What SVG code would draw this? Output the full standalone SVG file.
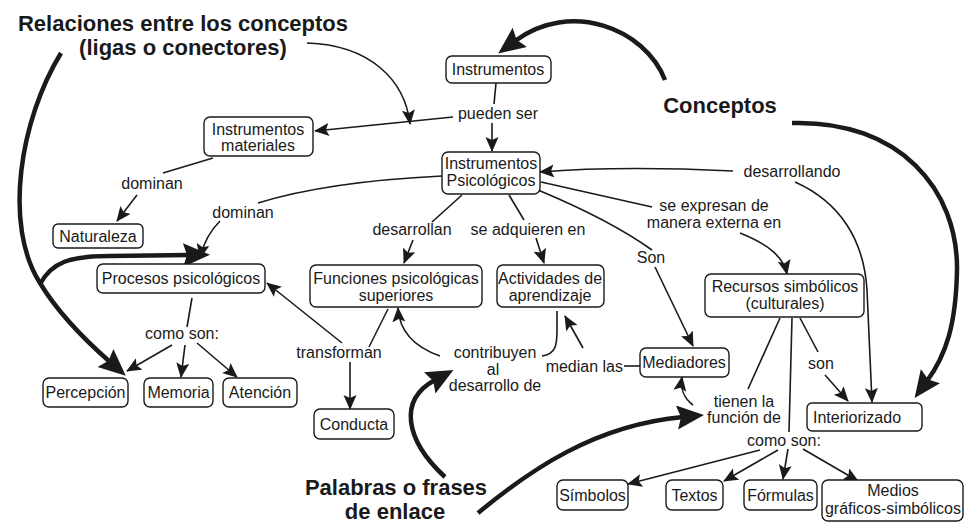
<svg xmlns="http://www.w3.org/2000/svg" width="966" height="523" viewBox="0 0 966 523">
<style>
.box{fill:#fff;stroke:#1a1a1a;stroke-width:1.4}
.t{font-family:"Liberation Sans",Arial,sans-serif;font-size:16px;fill:#1a1a1a;text-anchor:middle}
.h{font-family:"Liberation Sans",Arial,sans-serif;font-size:22px;font-weight:bold;fill:#1a1a1a;text-anchor:middle}
.ln{fill:none;stroke:#1a1a1a;stroke-width:1.6}
.ar{marker-end:url(#a)}
.th{fill:none;stroke:#1a1a1a;stroke-width:4.5;marker-end:url(#A)}
</style>
<defs>
<marker id="a" markerUnits="userSpaceOnUse" markerWidth="16" markerHeight="14" refX="14" refY="6.5" orient="auto">
<path d="M0,0 L15,6.5 L0,13 L3,6.5 z" fill="#1a1a1a"/>
</marker>
<marker id="A" markerUnits="userSpaceOnUse" markerWidth="28" markerHeight="25" refX="6" refY="12" orient="auto">
<path d="M0,0 L27,12 L0,24 L4,12 z" fill="#1a1a1a"/>
</marker>
</defs>
<rect width="966" height="523" fill="#fff"/>

<g id="connectors">
<path class="ln" d="M496,83 L494,104"/>
<path class="ln ar" d="M492,123 L492,151"/>
<path class="ln ar" d="M453,117 L315,131"/>
<path class="ln ar" d="M307,43 C370,45 405,80 410,124"/>
<path class="ln" d="M213,158 L163,173"/>
<path class="ln ar" d="M137,195 L117,221"/>
<path class="ln" d="M442,176 C360,180 300,190 258,203"/>
<path class="ln ar" d="M220,221 Q205,236 200,258"/>
<path class="ln" d="M462,195 L432,222"/>
<path class="ln ar" d="M413,240 L404,263"/>
<path class="ln" d="M509,195 L524,220"/>
<path class="ln ar" d="M536,238 L544,263"/>
<path class="ln" d="M538,190 Q610,220 652,250"/>
<path class="ln ar" d="M655,267 L693,346"/>
<path class="ln" d="M541,182 L652,207"/>
<path class="ln ar" d="M740,233 C765,243 783,255 787,274"/>
<path class="ln ar" d="M733,171 C650,167 590,168 540,172"/>
<path class="ln ar" d="M795,182 C840,202 864,240 867,290 L872,402"/>
<path class="ln" d="M388,309 L369,347"/>
<path class="ln ar" d="M342,343 L267,283"/>
<path class="ln ar" d="M350,362 L350,409"/>
<path class="ln ar" d="M440,356 Q400,342 398,308"/>
<path class="ln" d="M542,356 C556,354 557,345 557,330 L557,311"/>
<path class="ln ar" d="M583,348 L565,316"/>
<path class="ln" d="M624,366 L640,366"/>
<path class="ln ar" d="M693,405 C684,398 680,390 682,377"/>
<path class="ln" d="M780,318 L748,389"/>
<path class="ln" d="M792,318 L789,432"/>
<path class="ln" d="M800,318 L818,352"/>
<path class="ln ar" d="M825,375 L848,401"/>
<path class="ln ar" d="M760,450 L628,484"/>
<path class="ln ar" d="M778,450 L724,481"/>
<path class="ln ar" d="M788,449 L783,479"/>
<path class="ln ar" d="M803,449 L858,481"/>
<path class="ln" d="M192,298 L187,327"/>
<path class="ln ar" d="M172,345 L127,371"/>
<path class="ln ar" d="M185,345 L181,377"/>
<path class="ln ar" d="M197,343 L237,377"/>
<path class="th" d="M665,80 C645,28 570,0 515,41"/>
<path class="th" d="M792,123 C900,120 958,190 957,270 C956,325 946,355 927,381"/>
<path class="th" d="M61,53 C20,120 3,225 40,283 C58,313 85,340 110,362"/>
<path class="th" d="M40,284 C52,262 70,256 110,256 L189,255"/>
<path class="th" d="M445,477 C405,440 398,400 435,380"/>
<path class="th" d="M478,513 C530,470 595,425 683,417"/>
</g>

<g id="labels">
<text class="h" x="183" y="31">Relaciones entre los conceptos</text>
<text class="h" x="183" y="55">(ligas o conectores)</text>
<text class="h" x="720" y="113">Conceptos</text>
<text class="h" x="396" y="495">Palabras o frases</text>
<text class="h" x="395" y="519">de enlace</text>
<text class="t" x="498" y="119">pueden ser</text>
<text class="t" x="152" y="189">dominan</text>
<text class="t" x="243" y="218">dominan</text>
<text class="t" x="792" y="177">desarrollando</text>
<text class="t" x="714" y="211">se expresan de</text>
<text class="t" x="714" y="228">manera externa en</text>
<text class="t" x="412" y="235">desarrollan</text>
<text class="t" x="528" y="235">se adquieren en</text>
<text class="t" x="651" y="263">Son</text>
<text class="t" x="182" y="339">como son:</text>
<text class="t" x="339" y="358">transforman</text>
<text class="t" x="495" y="358">contribuyen</text>
<text class="t" x="493" y="375">al</text>
<text class="t" x="495" y="391">desarrollo de</text>
<text class="t" x="623" y="372" style="text-anchor:end">median las</text>
<text class="t" x="821" y="369">son</text>
<text class="t" x="744" y="407">tienen la</text>
<text class="t" x="744" y="423">función de</text>
<text class="t" x="784" y="446">como son:</text>
</g>

<g id="n-instrumentos"><rect class="box" x="446" y="56" width="105" height="27" rx="6"/><text class="t" x="498" y="75">Instrumentos</text></g>
<g id="n-materiales"><rect class="box" x="204" y="117" width="109" height="39" rx="6"/><text class="t" x="258" y="135">Instrumentos</text><text class="t" x="258" y="151">materiales</text></g>
<g id="n-psicologicos"><rect class="box" x="442" y="152" width="98" height="42" rx="6"/><text class="t" x="491" y="169">Instrumentos</text><text class="t" x="491" y="186">Psicológicos</text></g>
<g id="n-naturaleza"><rect class="box" x="53" y="224" width="90" height="24" rx="5"/><text class="t" x="98" y="242">Naturaleza</text></g>
<g id="n-procesos"><rect class="box" x="97" y="264" width="168" height="29" rx="6"/><text class="t" x="181" y="284">Procesos psicológicos</text></g>
<g id="n-funciones"><rect class="box" x="310" y="265" width="172" height="42" rx="6"/><text class="t" x="396" y="284">Funciones psicológicas</text><text class="t" x="396" y="301">superiores</text></g>
<g id="n-actividades"><rect class="box" x="497" y="265" width="107" height="42" rx="6"/><text class="t" x="550" y="284">Actividades de</text><text class="t" x="550" y="301">aprendizaje</text></g>
<g id="n-recursos"><rect class="box" x="705" y="274" width="159" height="43" rx="6"/><text class="t" x="785" y="292">Recursos simbólicos</text><text class="t" x="785" y="309">(culturales)</text></g>
<g id="n-mediadores"><rect class="box" x="640" y="348" width="89" height="29" rx="6"/><text class="t" x="684" y="368">Mediadores</text></g>
<g id="n-interiorizado"><rect class="box" x="807" y="403" width="115" height="28" rx="5"/><text class="t" x="813" y="423" style="text-anchor:start">Interiorizado</text></g>
<g id="n-percepcion"><rect class="box" x="43" y="378" width="85" height="29" rx="6"/><text class="t" x="85.5" y="398">Percepción</text></g>
<g id="n-memoria"><rect class="box" x="144" y="378" width="69" height="29" rx="6"/><text class="t" x="178.5" y="398">Memoria</text></g>
<g id="n-atencion"><rect class="box" x="223" y="378" width="74" height="29" rx="6"/><text class="t" x="260" y="398">Atención</text></g>
<g id="n-conducta"><rect class="box" x="314" y="409" width="80" height="30" rx="6"/><text class="t" x="354" y="430">Conducta</text></g>
<g id="n-simbolos"><rect class="box" x="557" y="480" width="71" height="30" rx="6"/><text class="t" x="592.5" y="501">Símbolos</text></g>
<g id="n-textos"><rect class="box" x="666" y="480" width="57" height="30" rx="6"/><text class="t" x="694.5" y="501">Textos</text></g>
<g id="n-formulas"><rect class="box" x="744" y="480" width="73" height="30" rx="6"/><text class="t" x="780.5" y="501">Fórmulas</text></g>
<g id="n-medios"><rect class="box" x="822" y="480" width="141" height="41" rx="6"/><text class="t" x="893" y="496">Medios</text><text class="t" x="893" y="514">gráficos-simbólicos</text></g>
</svg>
